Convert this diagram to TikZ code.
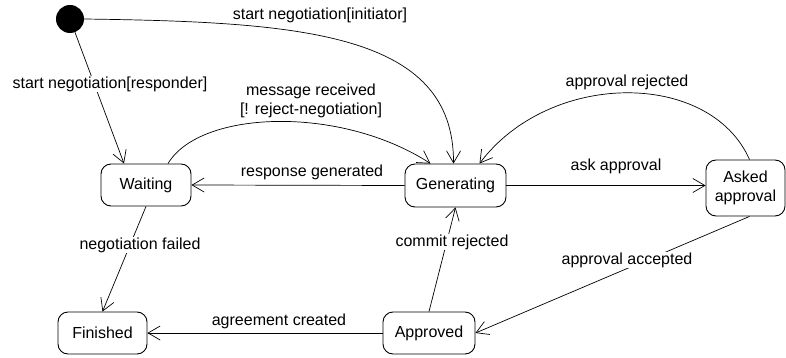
\documentclass[tikz,border=0pt]{standalone}
\usepackage{fontspec}
\setmainfont{Liberation Sans}
\usetikzlibrary{arrows.meta}
\begin{document}
\begin{tikzpicture}[x=1pt,y=-1pt,
  font=\fontsize{16}{19}\selectfont,
  state/.style={draw, rounded corners=10pt, line width=0.9pt, inner sep=0pt, align=center},
  lbl/.style={fill=white, inner sep=1pt, align=center},
  trans/.style={draw, line width=0.7pt, -{Straight Barb[length=12pt,width=14pt]}}]
\useasboundingbox (0,0) rectangle (786,358);

% states
\node[circle, fill=black, minimum size=28pt, inner sep=0pt] (init) at (70,19) {};
\node[state, minimum width=90pt, minimum height=42pt] (wait) at (146,185) {Waiting};
\node[state, minimum width=101pt, minimum height=43pt] (gen) at (455.5,185.5) {Generating};
\node[state, minimum width=79pt, minimum height=56pt] (asked) at (745.5,188) {Asked\\approval};
\node[state, minimum width=89pt, minimum height=42pt] (fin) at (102.5,333) {Finished};
\node[state, minimum width=92pt, minimum height=42pt] (appr) at (429,333) {Approved};

% transitions
\draw[trans] (init) -- ([xshift=-22pt]wait.north);
\draw[trans] (init.east) .. controls (300,22) and (454,32) .. ([xshift=-2pt]gen.north);
\draw[trans] ([xshift=22pt]wait.north) .. controls (200,110) and (340,105) .. ([xshift=-25pt]gen.north);
\draw[trans] (gen.west) -- (wait.east);
\draw[trans] (gen.east) -- (gen.east -| asked.west);
\draw[trans] ([xshift=4pt]asked.north) .. controls (710,70) and (550,70) .. ([xshift=24pt]gen.north);
\draw[trans] ([xshift=4pt]asked.south) -- (appr.east);
\draw[trans] (appr.north) -- (gen.south);
\draw[trans] (wait.south) -- (fin.north);
\draw[trans] (appr.west) -- (fin.east);

% transition labels
\node[lbl] (l1) at (320,15) {start negotiation[initiator]};
\node[lbl] (l2) at (110,84) {start negotiation[responder]};
\node[lbl] (l3) at (311,101) {message received\\{[}! reject-negotiation{]}};
\node[lbl] (l4) at (312,172) {response generated};
\node[lbl] (l5) at (616,166) {ask approval};
\node[lbl] (l6) at (627,82) {approval rejected};
\node[lbl] (l7) at (627,260) {approval accepted};
\node[lbl] (l8) at (452,242) {commit rejected};
\node[lbl] (l9) at (140,245) {negotiation failed};
\node[lbl] (l10) at (279,321) {agreement created};
\end{tikzpicture}
\end{document}
